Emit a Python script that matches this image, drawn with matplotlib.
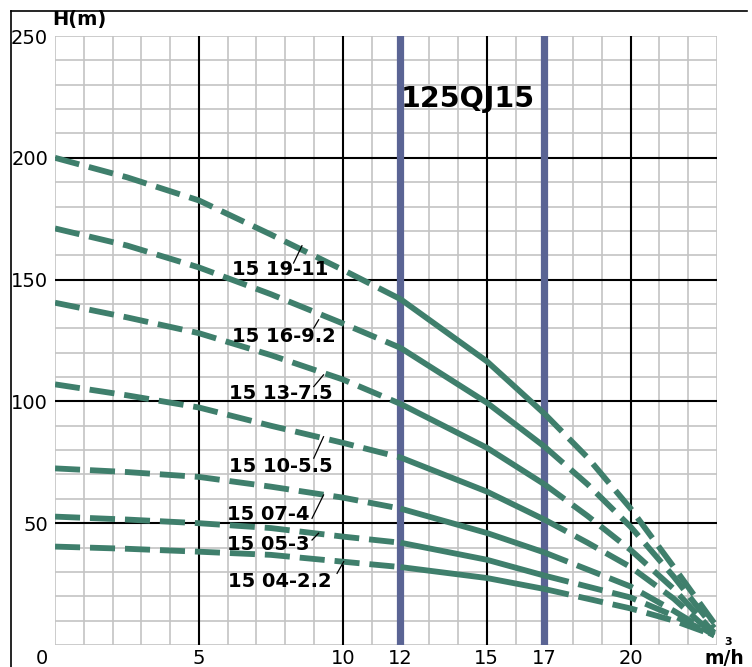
import matplotlib.pyplot as plt
from matplotlib.lines import Line2D
import matplotlib.transforms as mtransforms

plt.rcParams['font.family'] = ['DejaVu Sans']

# flow rate (m3/h) where head values were read
flow = [0, 2.5, 5, 7.5, 10, 12, 15, 17, 18.5, 20, 21.5, 22.9]

# head (m) per pump model
heads = {
    '15 19-11': [200, 192, 182.5, 168.5, 154, 142, 116.5, 95, 77, 56, 32, 9],
    '15 16-9.2': [171, 164, 155, 144, 132, 122, 99.5, 81.5, 66, 48.5, 28, 7],
    '15 13-7.5': [140.5, 134.5, 128, 119, 109, 99, 81, 66, 53, 39, 23, 5],
    '15 10-5.5': [107, 102.5, 97.5, 90, 83, 77, 63, 51.5, 42, 32, 19, 4],
    '15 07-4': [72.5, 71, 69, 65, 60.5, 56, 46, 38, 31, 24, 14, 4],
    '15 05-3': [52.7, 51.5, 50, 48, 44.5, 42, 35, 28.5, 24, 19.5, 12, 4],
    '15 04-2.2': [40.4, 39.5, 38.3, 37, 34.2, 32, 27.5, 23, 19, 15, 10, 4],
}

# label left/centre and leader line (x0, y0, x1, y1)
label_xy = {
    '15 19-11': (6.15, 154),
    '15 16-9.2': (6.15, 126.6),
    '15 13-7.5': (6.03, 103.4),
    '15 10-5.5': (6.03, 73.2),
    '15 07-4': (5.97, 53.4),
    '15 05-3': (5.97, 41.1),
    '15 04-2.2': (6.02, 25.9),
}
leaders = {
    '15 19-11': (8.29, 156.8, 8.58, 163.9),
    '15 16-9.2': (8.99, 130.1, 9.16, 133.5),
    '15 13-7.5': (8.99, 106.1, 9.33, 110.9),
    '15 10-5.5': (8.99, 76.7, 9.33, 85.5),
    '15 07-4': (8.93, 52.0, 9.33, 61.6),
    '15 05-3': (8.93, 43.1, 9.16, 45.9),
    '15 04-2.2': (9.80, 29.4, 10.03, 34.2),
}

work_range = (12, 17)
x_ticks = [0, 5, 10, 12, 15, 17, 20]
y_ticks = [50, 100, 150, 200, 250]

green = '#3f7f6c'
fig = plt.figure(figsize=(7.52, 6.67), dpi=100)
ax = fig.add_axes([55 / 752, 22 / 667, 662 / 752, 609 / 667])
ax.set_xlim(0, 23)
ax.set_ylim(0, 250)
for s in ax.spines.values():
    s.set_visible(False)

# grid
for x in range(0, 24):
    if x in (5, 10, 15, 20):
        ax.axvline(x, color='black', lw=1.5, zorder=1)
    else:
        ax.axvline(x, color='#c4c4c4', lw=1.2, zorder=0)
for y in range(0, 251, 10):
    if y in (50, 100, 150, 200):
        ax.axhline(y, color='black', lw=1.5, zorder=1)
    else:
        ax.axhline(y, color='#c4c4c4', lw=1.2, zorder=0)
for x in work_range:
    ax.axvline(x, color='#5a6494', lw=5.2, zorder=2)

# curves: solid in working range, dashed outside
i0 = flow.index(work_range[0])
i1 = flow.index(work_range[1])
for name, h in heads.items():
    ax.plot(flow[:i0 + 1], h[:i0 + 1], color=green, lw=4.2,
            dashes=(4.3, 1.7), dash_capstyle='butt', zorder=3)
    ax.plot(flow[i0:i1 + 1], h[i0:i1 + 1], color=green, lw=4.2,
            solid_capstyle='butt', zorder=3)
    ax.plot(flow[i1:], h[i1:], color=green, lw=4.2,
            dashes=(4.3, 1.7), dash_capstyle='butt', zorder=3)
    x0, y0, x1, y1 = leaders[name]
    ax.plot([x0, x1], [y0, y1], color='black', lw=0.9, zorder=4)
    lx, ly = label_xy[name]
    ax.text(lx, ly, name, fontsize=14, fontweight='bold', va='center',
            ha='left', zorder=5)

ax.text(12.0, 224, '125QJ15', fontsize=20.5, fontweight='bold',
        va='center', ha='left', zorder=5)

ax.set_xticks(x_ticks)
ax.set_yticks(y_ticks)
ax.tick_params(length=0, labelsize=14)
ax.tick_params(axis='x', pad=3)
ax.tick_params(axis='y', pad=5)
# the "0" label sits left of the axis origin
shift = mtransforms.ScaledTranslation(-13 / 100, 0, fig.dpi_scale_trans)
lbl0 = ax.get_xticklabels()[0]
lbl0.set_transform(lbl0.get_transform() + shift)

fig.text(52 / 752, 1 - 19 / 667, 'H(m)', fontsize=14, fontweight='bold',
         va='center', ha='left')
fig.text(704 / 752, 1 - 659 / 667, 'm/h', fontsize=13.5, fontweight='bold',
         va='center', ha='left')
fig.text(724 / 752, 1 - 642 / 667, '3', fontsize=8, fontweight='bold',
         va='center', ha='left')

# outer frame (top and left)
fig.add_artist(Line2D([11 / 752, 747 / 752], [1 - 11 / 667, 1 - 11 / 667],
                      color='black', lw=1.2, transform=fig.transFigure))
fig.add_artist(Line2D([11 / 752, 11 / 752], [0, 1 - 11 / 667],
                      color='black', lw=1.2, transform=fig.transFigure))

fig.savefig('out.png', dpi=100)
